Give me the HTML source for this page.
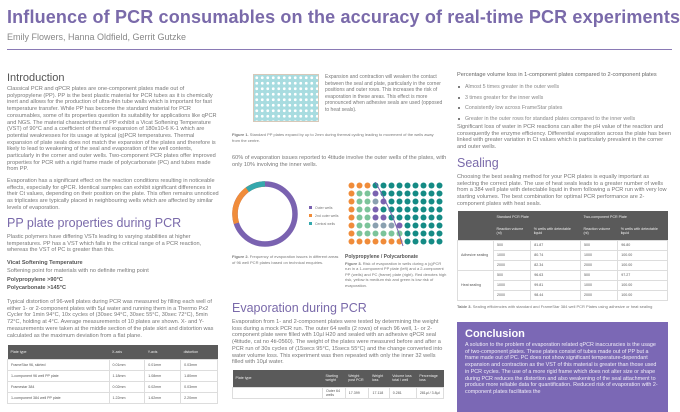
<!DOCTYPE html>
<html><head><meta charset="utf-8"><style>
*{margin:0;padding:0;box-sizing:border-box}
body{width:680px;height:400px;overflow:hidden;background:#fff;font-family:"Liberation Sans",sans-serif;color:#666;position:relative}
.a{position:absolute}
p{font-size:5.6px;line-height:6.7px;color:#777}
h2{font-weight:normal;color:#7a6aaa}
.t{border-collapse:collapse;font-size:3.6px;color:#555}
.t th{background:#5a5a5a;color:#eee;text-align:left;font-weight:normal;padding:0 3px}
.t td{border:0.5px solid #ddd;padding:0 3px}
ul{list-style:none}
li{font-size:5.3px;color:#888;height:10.6px;padding-left:8px;position:relative}
li:before{content:"";position:absolute;left:1px;top:2px;width:2px;height:2px;background:#555;border-radius:1px}
</style></head><body>
<div class="a" style="left:7px;top:7px;font-size:18px;font-weight:bold;color:#7a6aaa;white-space:nowrap;letter-spacing:0.15px">Influence of PCR consumables on the accuracy of real-time PCR experiments</div>
<div class="a" style="left:7px;top:32px;font-size:9px;color:#888">Emily Flowers, Hanna Oldfield, Gerrit Gutzke</div>
<div class="a" style="left:7px;top:49px;width:665px;height:1px;background:#8a7ab5"></div>

<!-- left -->
<h2 class="a" style="left:7px;top:72px;font-size:11px;color:#555">Introduction</h2>
<p class="a" style="left:7px;top:86px;width:212px">Classical PCR and qPCR plates are one-component plates made out of polypropylene (PP). PP is the best plastic material for PCR tubes as it is chemically inert and allows for the production of ultra-thin tube walls which is important for fast temperature transfer. While PP has become the standard material for PCR consumables, some of its properties question its suitability for applications like qPCR and NGS. The material characteristics of PP exhibit a Vicat Softening Temperature (VST) of 90°C and a coefficient of thermal expansion of 180x10-6 K-1 which are potential weaknesses for its usage at typical (q)PCR temperatures. Thermal expansion of plate seals does not match the expansion of the plates and therefore is likely to lead to weakening of the seal and evaporation of the well contents, particularly in the corner and outer wells. Two-component PCR plates offer improved properties for PCR with a rigid frame made of polycarbonate (PC) and tubes made from PP.</p>
<p class="a" style="left:7px;top:178px;width:212px">Evaporation has a significant effect on the reaction conditions resulting in noticeable effects, especially for qPCR. Identical samples can exhibit significant differences in their Ct values, depending on their position on the plate. This often remains unnoticed as triplicates are typically placed in neighbouring wells which are affected by similar levels of evaporation.</p>
<h2 class="a" style="left:7px;top:216px;font-size:12.5px">PP plate properties during PCR</h2>
<p class="a" style="left:7px;top:234px;width:212px">Plastic polymers have differing VSTs leading to varying stabilities at higher temperatures. PP has a VST which falls in the critical range of a PCR reaction, whereas the VST of PC is greater than this.</p>
<p class="a" style="left:7px;top:259px;width:212px;line-height:8.4px"><b style="color:#555">Vicat Softening Temperature</b><br>Softening point for materials with no definite melting point<br><b style="color:#555">Polypropylene &gt;90°C</b><br><b style="color:#555">Polycarbonate &gt;145°C</b></p>
<p class="a" style="left:7px;top:299px;width:212px">Typical distortion of 96-well plates during PCR was measured by filling each well of either 1- or 2-component plates with 5µl water and running them in a Thermo Px2 Cycler for 1min 94°C, 10x cycles of (30sec 94°C, 30sec 55°C, 30sec 72°C), 5min 72°C, holding at 4°C. Average measurements of 10 plates are shown. X- and Y- measurements were taken at the middle section of the plate skirt and distortion was calculated as the maximum deviation from a flat plane.</p>
<table class="t a" style="left:7px;top:345px;width:211px">
<tr style="height:14px"><th>Plate type</th><th>X-axis</th><th>Y-axis</th><th>distortion</th></tr>
<tr style="height:11px"><td>FrameStar 96, skirted</td><td>0.01mm</td><td>0.01mm</td><td>0.03mm</td></tr>
<tr style="height:11px"><td>1-component 96 well PP plate</td><td>1.18mm</td><td>1.08mm</td><td>1.80mm</td></tr>
<tr style="height:11px"><td>Framestar 384</td><td>0.02mm</td><td>0.02mm</td><td>0.03mm</td></tr>
<tr style="height:11px"><td>1-component 384 well PP plate</td><td>1.22mm</td><td>1.62mm</td><td>2.20mm</td></tr>
</table>

<!-- middle -->
<div class="a" style="left:253px;top:74px;width:66px;height:48px;background:#a8dce0;border:1px solid #d8c8b8;background-image:radial-gradient(circle,#fff 1.3px,transparent 1.6px);background-size:5.5px 5.5px"></div>
<p class="a" style="left:325px;top:74px;width:122px;font-size:5px;line-height:6.5px">Expansion and contraction will weaken the contact between the seal and plate, particularly in the corner positions and outer rows. This increases the risk of evaporation in these areas. This effect is more pronounced when adhesive seals are used (opposed to heat seals).</p>
<p class="a" style="left:232px;top:132px;width:210px;font-size:4px;line-height:5.5px"><b>Figure 1.</b> Standard PP plates expand by up to 2mm during thermal cycling leading to movement of the wells away from the centre.</p>
<p class="a" style="left:232px;top:155px;width:215px">60% of evaporation issues reported to 4titude involve the outer wells of the plates, with only 10% involving the inner wells.</p>
<svg class="a" style="left:232px;top:175px" width="215" height="80">
<g transform="translate(33,39)">
<circle r="30" fill="none" stroke="#7a62b0" stroke-width="5.5"/>
<circle r="30" fill="none" stroke="#f08c3a" stroke-width="5.5" stroke-dasharray="56.5 200" transform="rotate(-198)"/>
<circle r="30" fill="none" stroke="#35a8ad" stroke-width="5.5" stroke-dasharray="18.8 200" transform="rotate(-126)"/>
</g>
<rect x="77" y="31" width="3" height="3" fill="#7a62b0"/><text x="83" y="34" font-size="3.5" fill="#777">Outer wells</text>
<rect x="77" y="39" width="3" height="3" fill="#f08c3a"/><text x="83" y="42" font-size="3.5" fill="#777">2nd outer wells</text>
<rect x="77" y="47" width="3" height="3" fill="#35a8ad"/><text x="83" y="50" font-size="3.5" fill="#777">Central wells</text>
</svg>
<svg class="a" style="left:348px;top:182px" width="100" height="66" id="g"></svg>
<script>
var s='',C={o:'#f08c3a',g:'#7cc49a',p:'#7a62b0',t:'#158b85',l:'#8aa0b0'};
var rows=['ooottttttttt','oggptttttttt','ogglpttttttt','oggptttttttt','oggppttttttt','ogglllpttttt','oggggggttttt','ooooooottttt'];
for(var r=0;r<8;r++)for(var c=0;c<12;c++){var k=rows[r][c];s+='<circle cx="'+(3.5+c*8)+'" cy="'+(3.5+r*8)+'" r="3" fill="'+C[k]+'"/>';}
s+='<path d="M26 -2 Q45 30 55 64" stroke="#7a62b0" stroke-width="1" fill="none"/>';
document.getElementById('g').innerHTML=s;
</script>
<p class="a" style="left:232px;top:254px;width:110px;font-size:4px;line-height:5.5px"><b>Figure 2.</b> Frequency of evaporation issues in different areas of 96 well PCR plates based on technical enquiries.</p>
<p class="a" style="left:345px;top:254px;width:102px;font-size:4px;line-height:5.5px"><b style="font-size:5px;color:#555">Polypropylene / Polycarbonate</b><br><b>Figure 3.</b> Risk of evaporation in wells during a (q)PCR run in a 1-component PP plate (left) and a 2-component PP (wells) and PC (frame) plate (right). Red denotes high risk, yellow is medium risk and green is low risk of evaporation.</p>
<h2 class="a" style="left:232px;top:301px;font-size:12.5px">Evaporation during PCR</h2>
<p class="a" style="left:232px;top:319px;width:215px">Evaporation from 1- and 2-component plates were tested by determining the weight loss during a mock PCR run. The outer 64 wells (2 rows) of each 96 well, 1- or 2- component plate were filled with 10µl H20 and sealed with an adhesive qPCR seal (4titude, cat no 4ti-0560). The weight of the plates were measured before and after a PCR run of 30s cycles of (15secs 95°C, 15secs 55°C) and the change converted into water volume loss. This experiment was then repeated with only the inner 32 wells filled with 10µl water.</p>
<table class="t a" style="left:232px;top:370px;width:212px">
<tr style="height:17px"><th style="width:90px">Plate type</th><th>Starting weight</th><th>Weight post PCR</th><th>Weight loss</th><th>Volume loss total / well</th><th>Percentage loss</th></tr>
<tr style="height:11px"><td></td><td>Outer 64 wells</td><td>17.399</td><td>17.118</td><td>0.281</td><td>281µl / 3.8µl</td></tr>
</table>

<!-- right -->
<p class="a" style="left:457px;top:72px;width:215px;color:#666">Percentage volume loss in 1-component plates compared to 2-component plates</p>
<ul class="a" style="left:457px;top:84px;width:215px">
<li>Almost 5 times greater in the outer wells</li>
<li>3 times greater for the inner wells</li>
<li>Consistently low across FrameStar plates</li>
<li>Greater in the outer rows for standard plates compared to the inner wells</li></ul>
<p class="a" style="left:457px;top:124px;width:215px">Significant loss of water in PCR reactions can alter the pH value of the reaction and consequently the enzyme efficiency. Differential evaporation across the plate has been linked with greater variation in Ct values which is particularly prevalent in the corner and outer wells.</p>
<h2 class="a" style="left:457px;top:156px;font-size:12.5px">Sealing</h2>
<p class="a" style="left:457px;top:174px;width:215px">Choosing the best sealing method for your PCR plates is equally important as selecting the correct plate. The use of heat seals leads to a greater number of wells from a 384 well plate with detectable liquid in them following a PCR run with very low starting volumes. The best combination for optimal PCR performance are 2-component plates with heat seals.</p>
<table class="t a" style="left:457px;top:211px;width:211px">
<tr style="height:12px"><th style="width:36px"></th><th colspan="2">Standard PCR Plate</th><th colspan="2">Two-component PCR Plate</th></tr>
<tr style="height:17px"><th></th><th>Reaction volume (nl)</th><th>% wells with detectable liquid</th><th>Reaction volume (nl)</th><th>% wells with detectable liquid</th></tr>
<tr style="height:10px"><td rowspan="3">Adhesive sealing</td><td>500</td><td>81.87</td><td>500</td><td>96.80</td></tr>
<tr style="height:10px"><td>1000</td><td>80.74</td><td>1000</td><td>100.00</td></tr>
<tr style="height:10px"><td>2000</td><td>82.34</td><td>2000</td><td>100.00</td></tr>
<tr style="height:10px"><td rowspan="3">Heat sealing</td><td>500</td><td>96.63</td><td>500</td><td>97.27</td></tr>
<tr style="height:10px"><td>1000</td><td>99.81</td><td>1000</td><td>100.00</td></tr>
<tr style="height:10px"><td>2000</td><td>98.44</td><td>2000</td><td>100.00</td></tr>
</table>
<p class="a" style="left:457px;top:304px;width:212px;font-size:4px;line-height:5.5px"><b>Table 3.</b> Sealing efficiencies with standard and FrameStar 384 well PCR Plates using adhesive or heat sealing</p>
<div class="a" style="left:457px;top:322px;width:211px;height:90px;background:#7b68b5;padding:6px 8px">
<div style="font-size:11px;font-weight:bold;color:#fff">Conclusion</div>
<p style="color:#f0eef8;font-size:5.4px;line-height:6.7px;margin-top:2px">A solution to the problem of evaporation related qPCR inaccuracies is the usage of two-component plates. These plates consist of tubes made out of PP but a frame made out of PC. PC does not show significant temperature-dependant expansion and contraction as the VST of this material is greater than those used in PCR cycles. The use of a more rigid frame which does not alter size or shape during PCR reduces the distortion and also weakening of the seal attachment to produce more reliable data for quantification. Reduced risk of evaporation with 2-component plates facilitates the</p>
</div>
</body></html>
